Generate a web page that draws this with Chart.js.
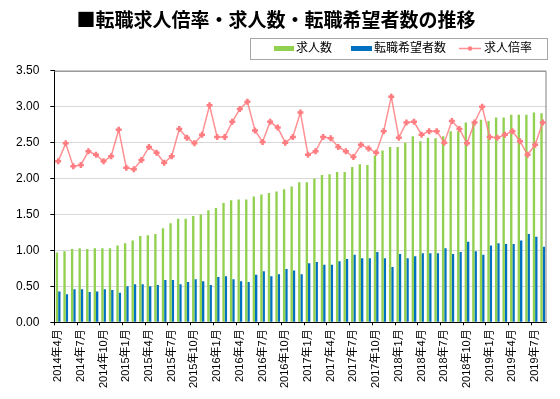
<!DOCTYPE html>
<html lang="ja">
<head>
<meta charset="UTF-8">
<title>転職求人倍率・求人数・転職希望者数の推移</title>
<script src="https://cdn.jsdelivr.net/npm/chart.js"></script>
<style>
  html, body { margin: 0; padding: 0; background: #fff; }
  #wrap { width: 560px; height: 399px; }
</style>
</head>
<body>
<div id="wrap"><canvas id="chart"></canvas></div>
<script>
// months on the x axis
const months = [
  '2014年4月', '2014年5月', '2014年6月', '2014年7月', '2014年8月', '2014年9月', '2014年10月', '2014年11月', '2014年12月',
  '2015年1月', '2015年2月', '2015年3月', '2015年4月', '2015年5月', '2015年6月', '2015年7月', '2015年8月', '2015年9月',
  '2015年10月', '2015年11月', '2015年12月', '2016年1月', '2016年2月', '2016年3月', '2016年4月', '2016年5月', '2016年6月',
  '2016年7月', '2016年8月', '2016年9月', '2016年10月', '2016年11月', '2016年12月', '2017年1月', '2017年2月', '2017年3月',
  '2017年4月', '2017年5月', '2017年6月', '2017年7月', '2017年8月', '2017年9月', '2017年10月', '2017年11月', '2017年12月',
  '2018年1月', '2018年2月', '2018年3月', '2018年4月', '2018年5月', '2018年6月', '2018年7月', '2018年8月', '2018年9月',
  '2018年10月', '2018年11月', '2018年12月', '2019年1月', '2019年2月', '2019年3月', '2019年4月', '2019年5月', '2019年6月',
  '2019年7月', '2019年8月'
];

// 求人数
const jobOffers = [
  0.97, 0.99, 1.02, 1.03, 1.02, 1.03, 1.03, 1.03, 1.07, 1.10, 1.14, 1.20, 1.21, 1.23, 1.31, 1.38, 1.44, 1.44, 1.48, 1.50, 1.56, 1.59,
  1.66, 1.70, 1.71, 1.71, 1.75, 1.78, 1.80, 1.82, 1.85, 1.89, 1.95, 1.95, 2.00, 2.05, 2.06, 2.09, 2.09, 2.16, 2.20, 2.19, 2.32,
  2.39, 2.44, 2.44, 2.50, 2.59, 2.52, 2.57, 2.56, 2.59, 2.66, 2.66, 2.78, 2.78, 2.82, 2.80, 2.85, 2.85, 2.89, 2.89, 2.89, 2.92, 2.91
];

// 転職希望者数
const jobSeekers = [
  0.43, 0.39, 0.46, 0.46, 0.42, 0.43, 0.46, 0.45, 0.41, 0.50, 0.53, 0.53, 0.50, 0.52, 0.59, 0.59, 0.53, 0.56, 0.60, 0.57, 0.52, 0.63,
  0.64, 0.60, 0.57, 0.56, 0.66, 0.71, 0.64, 0.67, 0.74, 0.72, 0.67, 0.82, 0.84, 0.80, 0.80, 0.85, 0.88, 0.94, 0.89, 0.89, 0.98,
  0.89, 0.77, 0.95, 0.89, 0.92, 0.96, 0.96, 0.96, 1.03, 0.95, 0.98, 1.12, 0.99, 0.94, 1.07, 1.10, 1.09, 1.09, 1.14, 1.23, 1.19, 1.05
];

// 求人倍率
const offerRatio = [
  2.24, 2.49, 2.17, 2.19, 2.38, 2.33, 2.24, 2.31, 2.68, 2.15, 2.13, 2.26, 2.44, 2.36, 2.22, 2.31, 2.69, 2.57, 2.49, 2.61, 3.02, 2.58,
  2.58, 2.79, 2.97, 3.07, 2.67, 2.51, 2.79, 2.71, 2.50, 2.58, 2.92, 2.33, 2.38, 2.58, 2.56, 2.44, 2.38, 2.30, 2.47, 2.42, 2.36,
  2.66, 3.14, 2.57, 2.78, 2.79, 2.61, 2.66, 2.66, 2.50, 2.80, 2.69, 2.49, 2.78, 3.00, 2.58, 2.57, 2.61, 2.66, 2.52, 2.33, 2.47, 2.78
];

const FONT = "'Liberation Sans', 'Noto Sans CJK JP', sans-serif";
Chart.defaults.font.family = FONT;
Chart.defaults.color = '#000';

// gray frame on top/right of plot area + boxed legend like the Excel original
const frameAndLegend = {
  id: 'frameAndLegend',
  beforeDatasetsDraw(chart) {
    const a = chart.chartArea, c = chart.ctx;
    c.save();
    c.strokeStyle = '#808080';
    c.lineWidth = 1;
    c.beginPath();
    c.moveTo(a.left, a.top + 0.5);
    c.lineTo(a.right - 0.5, a.top + 0.5);
    c.lineTo(a.right - 0.5, a.bottom);
    c.stroke();
    c.restore();
  },
  afterDraw(chart) {
    const c = chart.ctx;
    const ds = chart.data.datasets;
    c.save();
    c.strokeStyle = '#a6a6a6';
    c.lineWidth = 1;
    c.strokeRect(250.5, 38.5, 297, 21);
    c.font = '12px ' + FONT;
    c.textBaseline = 'middle';
    c.fillStyle = '#000';
    const y = 48.5;
    // 求人数
    c.fillStyle = ds[1].backgroundColor;
    c.fillRect(274, y - 2.5, 20, 5);
    c.fillStyle = '#000';
    c.fillText(ds[1].label, 296, y);
    // 転職希望者数
    c.fillStyle = ds[2].backgroundColor;
    c.fillRect(351, y - 2.5, 21, 5);
    c.fillStyle = '#000';
    c.fillText(ds[2].label, 374, y);
    // 求人倍率
    c.strokeStyle = ds[0].borderColor;
    c.lineWidth = 1.5;
    c.beginPath();
    c.moveTo(459, y);
    c.lineTo(481, y);
    c.stroke();
    c.fillStyle = ds[0].pointBackgroundColor;
    c.beginPath();
    c.arc(470, y, 2.2, 0, Math.PI * 2);
    c.fill();
    c.fillStyle = '#000';
    c.fillText(ds[0].label, 484, y);
    c.restore();
  }
};

const ctx = document.getElementById('chart').getContext('2d');
new Chart(ctx, {
  type: 'bar',
  data: {
    labels: months,
    datasets: [
      {
        type: 'line',
        label: '求人倍率',
        data: offerRatio,
        borderColor: 'rgba(255,124,128,0.85)',
        borderWidth: 1.5,
        pointStyle: 'cross',
        pointRadius: 3,
        pointBorderWidth: 2.5,
        pointBorderColor: '#ff7c80',
        pointBackgroundColor: '#ff7c80',
        tension: 0,
        order: 0
      },
      {
        label: '求人数',
        data: jobOffers,
        backgroundColor: '#92d050',
        categoryPercentage: 0.62,
        barPercentage: 1,
        order: 1
      },
      {
        label: '転職希望者数',
        data: jobSeekers,
        backgroundColor: '#0070c0',
        categoryPercentage: 0.62,
        barPercentage: 1,
        order: 1
      }
    ]
  },
  options: {
    responsive: true,
    maintainAspectRatio: false,
    animation: false,
    layout: { padding: { left: 5, right: 13, top: 0, bottom: 7 } },
    plugins: {
      legend: { display: false },
      tooltip: { enabled: false },
      title: {
        display: true,
        text: '■転職求人倍率・求人数・転職希望者数の推移',
        color: '#000',
        font: { size: 19, weight: 'bold', family: "'Noto Sans CJK JP', sans-serif" },
        padding: { top: 8, bottom: 40 }
      }
    },
    scales: {
      x: {
        border: { color: '#000' },
        grid: {
          drawOnChartArea: false,
          tickLength: 3,
          color: c => (c.index % 3 === 0 ? '#000' : 'rgba(0,0,0,0)')
        },
        ticks: {
          autoSkip: false,
          minRotation: 90,
          maxRotation: 90,
          padding: 4,
          font: { size: 11 },
          callback: function (v, i) { return i % 3 === 0 ? this.getLabelForValue(v) : ''; }
        }
      },
      y: {
        min: 0,
        max: 3.5,
        border: { color: '#000' },
        grid: { color: '#d9d9d9', tickColor: '#000', tickLength: 4 },
        ticks: {
          stepSize: 0.5,
          padding: 11,
          font: { size: 12 },
          callback: v => v.toFixed(2)
        }
      }
    }
  },
  plugins: [frameAndLegend]
});
</script>
</body>
</html>
